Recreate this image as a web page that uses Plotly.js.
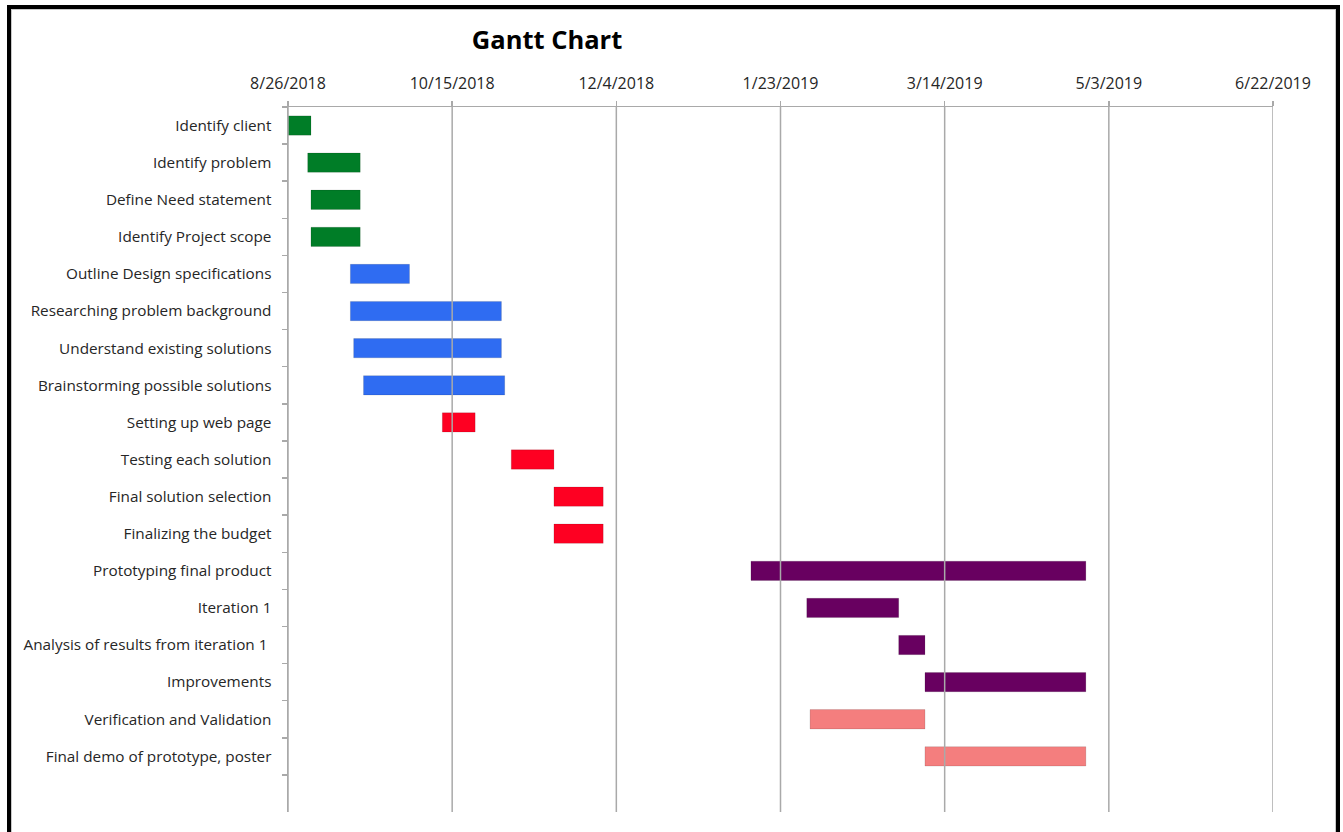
<!DOCTYPE html>
<html>
<head>
<meta charset="utf-8">
<script src="https://cdn.plot.ly/plotly-3.0.1.min.js"></script>
<style>
  html, body { margin: 0; padding: 0; background: #fff; overflow: hidden; }
  #chart { width: 1343px; height: 832px; }
  #frame { position: absolute; left: 7px; top: 5px; width: 1325px; height: 900px;
           border: 4px solid #000; box-shadow: inset 0 0 0 1px #c8c8c8; pointer-events: none; }
</style>
</head>
<body>
<div id="chart"></div>
<div id="frame"></div>
<script>
// ---- data ----
const tasks = [
  "Identify client",
  "Identify problem",
  "Define Need statement",
  "Identify Project scope",
  "Outline Design specifications",
  "Researching problem background",
  "Understand existing solutions",
  "Brainstorming possible solutions",
  "Setting up web page",
  "Testing each solution",
  "Final solution selection",
  "Finalizing the budget",
  "Prototyping final product",
  "Iteration 1",
  "Analysis of results from iteration 1 ",
  "Improvements",
  "Verification and Validation",
  "Final demo of prototype, poster"
];
const startDates = [
  "2018-08-26", "2018-09-01", "2018-09-02", "2018-09-02",
  "2018-09-14", "2018-09-14", "2018-09-15", "2018-09-18",
  "2018-10-12", "2018-11-02", "2018-11-15", "2018-11-15",
  "2019-01-14", "2019-01-31", "2019-02-28", "2019-03-08",
  "2019-02-01", "2019-03-08"
];
const endDates = [
  "2018-09-02", "2018-09-17", "2018-09-17", "2018-09-17",
  "2018-10-02", "2018-10-30", "2018-10-30", "2018-10-31",
  "2018-10-22", "2018-11-15", "2018-11-30", "2018-11-30",
  "2019-04-26", "2019-02-28", "2019-03-08", "2019-04-26",
  "2019-03-08", "2019-04-26"
];
const phase = [
  "Initiation", "Initiation", "Initiation", "Initiation",
  "Research", "Research", "Research", "Research",
  "Selection", "Selection", "Selection", "Selection",
  "Build", "Build", "Build", "Build",
  "Demo", "Demo"
];
const phaseNames = ["Initiation", "Research", "Selection", "Build", "Demo"];
const phaseColors = ["#007d27", "#2f6cf2", "#fe0022", "#680060", "#f47e7e"];
const tickDates = ["2018-08-26", "2018-10-15", "2018-12-04", "2019-01-23", "2019-03-14", "2019-05-03", "2019-06-22"];
const tickLabels = ["8/26/2018", "10/15/2018", "12/4/2018", "1/23/2019", "3/14/2019", "5/3/2019", "6/22/2019"];
const blankRow = " ";

// ---- build ----
const toMs = d => Date.parse(d + "T00:00:00Z");
const traces = phaseNames.map((p, pi) => {
  const idx = tasks.map((t, i) => i).filter(i => phase[i] === p);
  return {
    type: "bar",
    orientation: "h",
    y: idx.map(i => tasks[i]),
    base: idx.map(i => startDates[i]),
    x: idx.map(i => toMs(endDates[i]) - toMs(startDates[i])),
    width: 0.52,
    marker: { color: phaseColors[pi], line: { color: "rgba(0,0,0,0.12)", width: 1 } },
    name: p,
    hoverinfo: "y",
    showlegend: false
  };
});

const gridShapes = tickDates.map(d => ({
  type: "line", xref: "x", yref: "paper", layer: "above",
  x0: d, x1: d, y0: 0, y1: 1,
  line: { color: "#a9a9a9", width: 1.5 }
}));

const layout = {
  width: 1343, height: 832,
  margin: { l: 288, r: 70, t: 107, b: 20, pad: 0 },
  paper_bgcolor: "#fff", plot_bgcolor: "#fff",
  font: { family: "Open Sans, sans-serif", color: "#262626" },
  title: {
    text: "<b>Gantt Chart</b>",
    font: { family: "Open Sans, sans-serif", size: 25.5, color: "#000" },
    xref: "container", yref: "container",
    x: 547 / 1343, xanchor: "center",
    y: 1 - 40 / 832, yanchor: "middle"
  },
  xaxis: {
    type: "date",
    side: "top",
    range: [tickDates[0], tickDates[tickDates.length - 1]],
    tickmode: "array",
    tickvals: tickDates,
    ticktext: tickLabels,
    ticks: "outside", ticklen: 5, tickwidth: 1.5, tickcolor: "#a9a9a9",
    showgrid: false, zeroline: false,
    showline: true, linecolor: "#a9a9a9", linewidth: 1.5,
    tickfont: { size: 16, color: "#262626" },
    ticklabelstandoff: 5,
    fixedrange: true
  },
  yaxis: {
    type: "category",
    categoryorder: "array",
    categoryarray: tasks.concat([blankRow]),
    range: [tasks.length + 0.5, -0.5],
    tickson: "boundaries",
    ticks: "outside", ticklen: 5, tickwidth: 1.5, tickcolor: "#a9a9a9",
    showgrid: false, zeroline: false,
    showline: true, linecolor: "#a9a9a9", linewidth: 1.5,
    tickfont: { size: 15.3, color: "#262626" },
    ticklabelstandoff: 12,
    fixedrange: true
  },
  shapes: gridShapes,
  bargap: 0.48
};

Plotly.newPlot("chart", traces, layout, { displayModeBar: false, staticPlot: true });
</script>
</body>
</html>
